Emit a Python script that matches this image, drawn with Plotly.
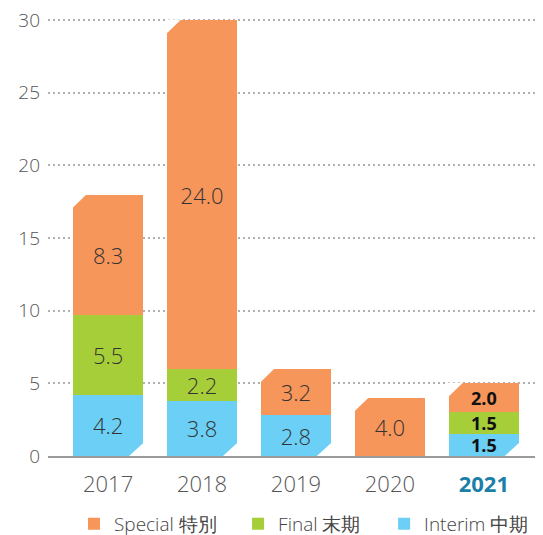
import plotly.graph_objects as go

years = ["2017", "2018", "2019", "2020", "2021"]
interim = [4.2, 3.8, 2.8, 0.0, 1.5]
final = [5.5, 2.2, 0.0, 0.0, 1.5]
special = [8.3, 24.0, 3.2, 4.0, 2.0]
series_names = ["Interim 中期", "Final 末期", "Special 特別"]
colors = ["#6CCFF6", "#A6CE39", "#F7965A"]
y_ticks = [0, 5, 10, 15, 20, 25, 30]

FONT = "Open Sans"
LW = 300
xs = list(range(len(years)))
bar_w = 0.745
last = len(years) - 1
legend_ids = ["legend3", "legend2", "legend"]
legend_x = {"legend": 0.0525, "legend2": 0.384, "legend3": 0.679}


def labels(vals):
    out = []
    for i, v in enumerate(vals):
        if v <= 0:
            out.append("")
        elif i == last:
            out.append(f"<b>{v:.1f}</b>")
        else:
            out.append(f"{v:.1f}")
    return out


fig = go.Figure()
for name, vals, col, lg in zip(series_names, [interim, final, special], colors, legend_ids):
    fig.add_trace(go.Bar(
        x=xs, y=vals, name=name, width=bar_w, legend=lg,
        marker=dict(color=col, line=dict(width=0)),
        text=labels(vals), textposition="inside", insidetextanchor="middle",
        constraintext="none", textangle=0,
        textfont=dict(family=FONT, size=[18 if i == last else 22 for i in xs], weight=LW,
                      color=["#111111" if i == last else "#333333" for i in xs]),
        hoverinfo="skip",
    ))

# clipped corners (derived from the data)
dx, dy = 0.15, 0.95
shapes = []
for i in xs:
    top = interim[i] + final[i] + special[i]
    x0 = i - bar_w / 2
    x1 = i + bar_w / 2
    shapes.append(dict(type="path", xref="x", yref="y", layer="above",
                       path=f"M {x0 - 0.01},{top + 0.05} L {x0 + dx},{top + 0.05} L {x0 - 0.01},{top - dy} Z",
                       fillcolor="white", line=dict(width=0)))
    if interim[i] > 0:
        shapes.append(dict(type="path", xref="x", yref="y", layer="above",
                           path=f"M {x1 + 0.01},0.0 L {x1 - dx},0.0 L {x1 + 0.01},{dy} Z",
                           fillcolor="white", line=dict(width=0)))

ticktext = years[:-1] + [f"<b><span style='color:#1B7FA8'>{years[-1]}</span></b>"]

legend_common = dict(orientation="h", xanchor="left", y=-0.155, yanchor="middle",
                     font=dict(family=FONT, size=19, weight=LW, color="#444444"))

fig.update_layout(
    barmode="stack",
    width=543, height=550,
    margin=dict(l=40, r=8, t=10, b=102),
    paper_bgcolor="white", plot_bgcolor="white",
    font=dict(family=FONT, color="#555555"),
    shapes=shapes,
    showlegend=True,
    legend=dict(x=legend_x["legend"], **legend_common),
    legend2=dict(x=legend_x["legend2"], **legend_common),
    legend3=dict(x=legend_x["legend3"], **legend_common),
    xaxis=dict(range=[-0.64, 4.63], tickvals=xs, ticktext=ticktext, automargin=False,
               showgrid=False, zeroline=False, showline=True, linecolor="#9a9a9a",
               linewidth=2, ticks="", ticklabelstandoff=8,
               tickfont=dict(family=FONT, size=22, weight=LW, color="#555555")),
    yaxis=dict(range=[0, 30.15], tickvals=y_ticks, showgrid=True, gridcolor="#b0b0b0",
               griddash="2px,3px", gridwidth=1.5, zeroline=False, showline=False,
               automargin=False, ticks="", ticklabelstandoff=7, ticklabeloverflow="allow",
               tickfont=dict(family=FONT, size=19, weight=LW, color="#555555")),
)

fig.write_html("out.html")
